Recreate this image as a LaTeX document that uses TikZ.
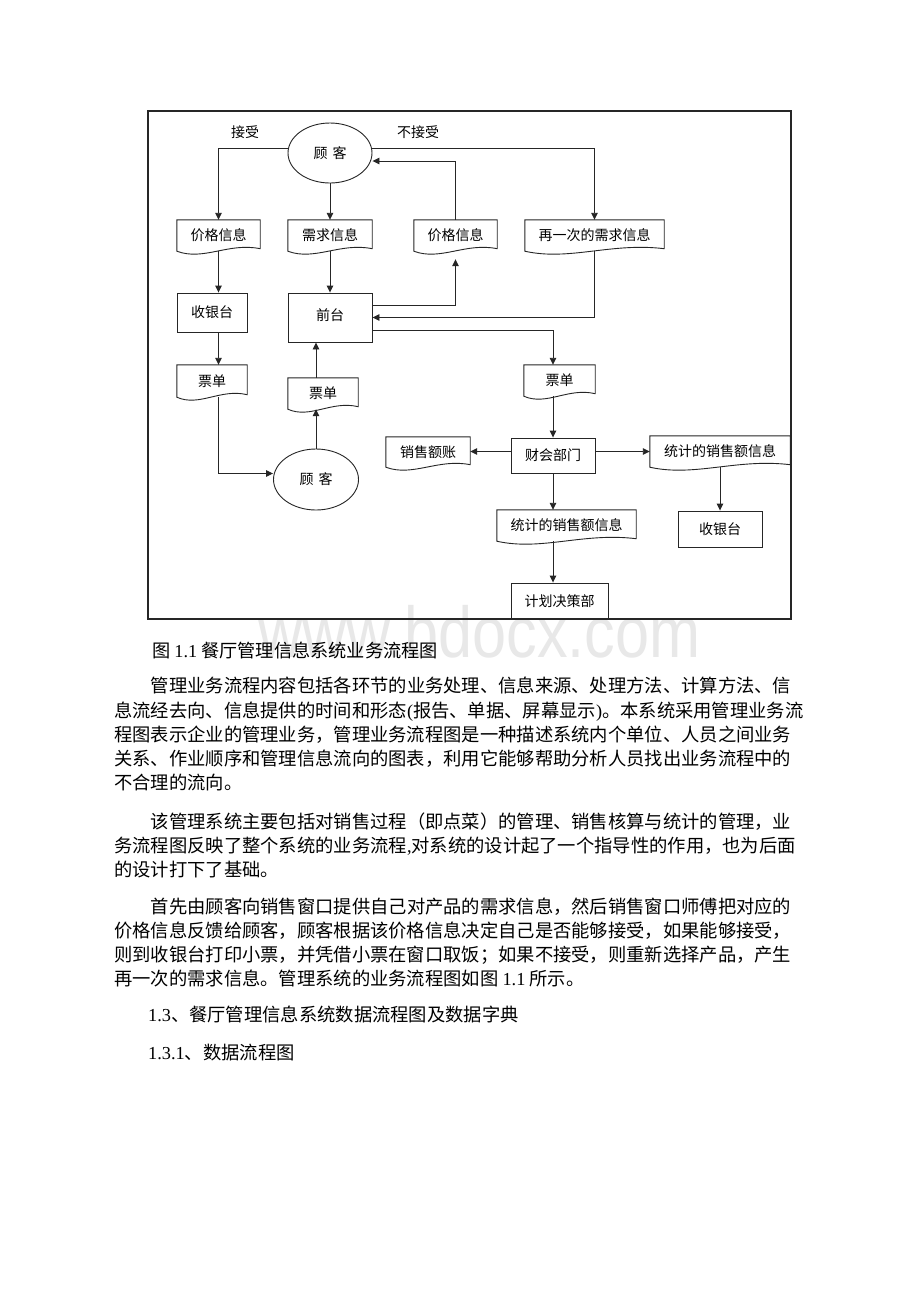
\documentclass[tikz,border=0pt]{standalone}
\usepackage{fontspec}
\setmainfont{Liberation Serif}
\newfontfamily\cjk{Noto Sans CJK SC}
\newfontfamily\wmfont{Liberation Sans}
\usetikzlibrary{shapes.geometric,arrows.meta,calc}
\newcommand\dgfont{\cjk\fontsize{14pt}{16pt}\selectfont}
\newcommand\bodyfont{\cjk\fontsize{18.3pt}{22pt}\selectfont}
\newcommand\capfont{\cjk\fontsize{18.2pt}{21pt}\selectfont}
\newcommand\lat[1]{{\rmfamily #1}}
\newcommand\docpath[1]{\draw[line] (#1.south west) -- (#1.north west) -- (#1.north east) -- ([yshift=2.5pt]#1.south east) .. controls ($(#1.south west)!0.62!(#1.south east)+(0pt,9pt)$) and ($(#1.south west)!0.32!(#1.south east)+(0pt,-10pt)$) .. (#1.south west) -- cycle;}
\begin{document}
\begin{tikzpicture}[x=1pt,y=-1pt,
  line/.style={draw=black!85, line width=0.9pt},
  arr/.style={line, -{Triangle[length=7pt,width=6.5pt]}},
  box/.style={rectangle, draw=black!85, line width=0.9pt, inner sep=0pt, font=\dgfont},
  doc/.style={rectangle, draw=none, inner sep=0pt, font=\dgfont},
  oval/.style={ellipse, draw=black!85, line width=0.9pt, inner sep=0pt, font=\dgfont},
  lbl/.style={inner sep=0pt, font=\dgfont},
  body/.style={anchor=base west, inner sep=0pt, font=\bodyfont},
  captext/.style={anchor=base west, inner sep=0pt, font=\capfont}]
\fill[white] (0,0) rectangle (920,1302);
\useasboundingbox (0,0) rectangle (920,1302);
% watermark
\node[anchor=base west, inner sep=0pt, text=black!9, font=\wmfont\fontsize{72pt}{80pt}\selectfont] (wm) at (258,657) {\scalebox{0.85}[1]{www.bdocx.com}};
% nodes
\node[oval, minimum width=84pt, minimum height=60pt] (ck1) at (330,153) {顾\hspace{5pt}客};
\node[lbl] (js) at (245,132) {接受};
\node[lbl] (bjs) at (418,132) {不接受};
\node[doc, minimum width=83pt, minimum height=31pt] (p1) at (218.5,235.5) {价格信息};
\node[doc, minimum width=84pt, minimum height=31pt] (xq) at (330,235.5) {需求信息};
\node[doc, minimum width=83pt, minimum height=31pt] (p2) at (455.5,235.5) {价格信息};
\node[doc, minimum width=139pt, minimum height=31pt] (zc) at (594.5,235.5) {再一次的需求信息};
\node[box, minimum width=70pt, minimum height=39pt] (sy1) at (212,312.5) {收银台};
\node[box, minimum width=84pt, minimum height=49pt] (qt) at (330,317.5) {\raisebox{5pt}{前台}};
\node[doc, minimum width=70pt, minimum height=32pt] (pd1) at (212,381) {票单};
\node[doc, minimum width=70pt, minimum height=31pt] (pd2) at (323,393.5) {票单};
\node[oval, minimum width=85pt, minimum height=61pt] (ck2) at (316,479.5) {顾\hspace{5pt}客};
\node[doc, minimum width=71pt, minimum height=31pt] (pd3) at (559.5,380.5) {票单};
\node[doc, minimum width=84pt, minimum height=30pt] (xse) at (428,452) {销售额账};
\node[box, minimum width=84pt, minimum height=35pt] (cw) at (553,455.5) {财会部门};
\node[doc, minimum width=140pt, minimum height=31pt] (tj1) at (720,451.5) {统计的销售额信息};
\node[box, minimum width=84pt, minimum height=36pt] (sy2) at (720,529) {收银台};
\node[doc, minimum width=139pt, minimum height=31pt] (tj2) at (566.5,525.5) {统计的销售额信息};
\node[box, minimum width=97pt, minimum height=36pt] (jh) at (559.5,601) {计划决策部};
\foreach \n in {p1,xq,p2,zc,pd1,pd2,pd3,xse,tj1,tj2} {\docpath{\n}}
% connectors
\draw[arr] ([yshift=5pt]ck1.west) -| (p1.north);
\draw[arr] ([yshift=5pt]ck1.east) -| (zc.north);
\draw[arr] (p2.north) |- ([yshift=-8pt]ck1.east);
\draw[arr] (ck1.south) -- (xq.north);
\draw[arr] (xq.south) -- (qt.north);
\draw[arr] (p1.south) -- (p1.south |- sy1.north);
\draw[arr] (p1.south |- sy1.south) -- (p1.south |- pd1.north);
\draw[arr] (p1.south |- pd1.south) |- ([yshift=6pt]ck2.west);
\draw[arr] (ck2.north) -- (ck2.north |- pd2.south);
\draw[arr] (ck2.north |- pd2.north) -- (ck2.north |- qt.south);
\draw[arr] ([yshift=12.5pt]qt.east) -| ([yshift=-8pt]p2.south);
\draw[arr] (zc.south) |- (qt.east);
\draw[arr] ([yshift=-12.5pt]qt.east) -| (cw.north |- pd3.north);
\draw[arr] (cw.north |- pd3.south) -- (cw.north);
\draw[arr] ([yshift=4pt]cw.west) -- ([yshift=4pt]cw.west -| xse.east);
\draw[arr] ([yshift=4pt]cw.east) -- ([yshift=4pt]cw.east -| tj1.west);
\draw[arr] (tj1.south) -- (sy2.north);
\draw[arr] (cw.south) -- (cw.south |- tj2.north);
\draw[arr] (cw.south |- tj2.south) -- (cw.south |- jh.north);
% frame
\draw[draw=black!85, line width=1.8pt] (148,111) rectangle (791,619);
% text
\node[captext] (c0) at (152,657) {图 \lat{1.1} 餐厅管理信息系统业务流程图};
\node[body] (a1) at (150.6,692) {管理业务流程内容包括各环节的业务处理、信息来源、处理方法、计算方法、信};
\node[body] (a2) at (114,717) {息流经去向、信息提供的时间和形态\lat{(}报告、单据、屏幕显示\lat{)}。本系统采用管理业务流};
\node[body] (a3) at (114,741) {程图表示企业的管理业务，管理业务流程图是一种描述系统内个单位、人员之间业务};
\node[body] (a4) at (114,765) {关系、作业顺序和管理信息流向的图表，利用它能够帮助分析人员找出业务流程中的};
\node[body] (a5) at (114,789) {不合理的流向。};
\node[body] (b1) at (150.6,828.5) {该管理系统主要包括对销售过程（即点菜）的管理、销售核算与统计的管理，业};
\node[body] (b2) at (114,852.5) {务流程图反映了整个系统的业务流程\lat{,}对系统的设计起了一个指导性的作用，也为后面};
\node[body] (b3) at (114,876.5) {的设计打下了基础。};
\node[body] (d1) at (150.6,913.5) {首先由顾客向销售窗口提供自己对产品的需求信息，然后销售窗口师傅把对应的};
\node[body] (d2) at (114,937.5) {价格信息反馈给顾客，顾客根据该价格信息决定自己是否能够接受，如果能够接受，};
\node[body] (d3) at (114,961.5) {则到收银台打印小票，并凭借小票在窗口取饭；如果不接受，则重新选择产品，产生};
\node[body] (d4) at (114,985.5) {再一次的需求信息。管理系统的业务流程图如图 \lat{1.1} 所示。};
\node[body] (h1) at (148,1021) {\lat{1.3}、餐厅管理信息系统数据流程图及数据字典};
\node[body] (h2) at (148,1059) {\lat{1.3.1}、数据流程图};
\end{tikzpicture}
\end{document}
